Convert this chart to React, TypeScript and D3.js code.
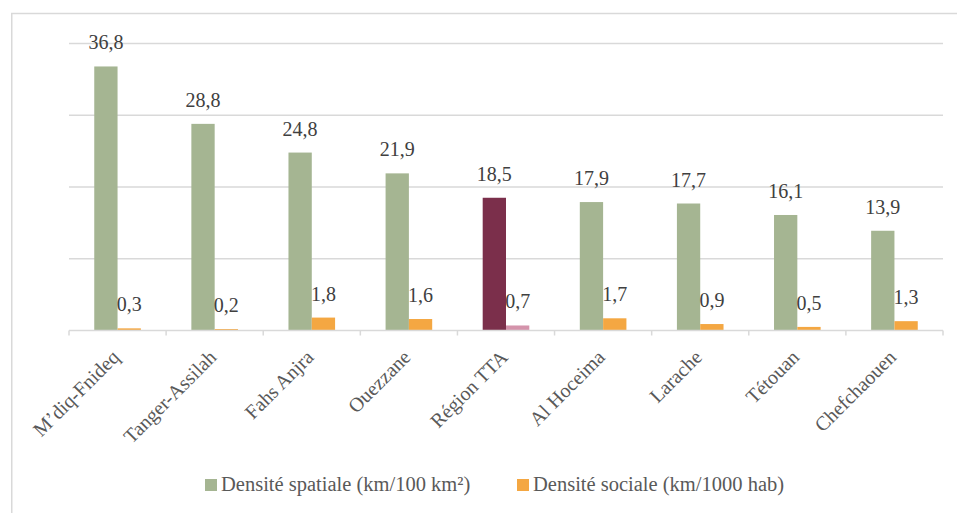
import React from "react";
import * as d3 from "d3";

const categories = ["M’diq-Fnideq", "Tanger-Assilah", "Fahs Anjra", "Ouezzane", "Région TTA", "Al Hoceima", "Larache", "Tétouan", "Chefchaouen"];
const spatialValues = [36.8, 28.8, 24.8, 21.9, 18.5, 17.9, 17.7, 16.1, 13.9];
const socialValues = [0.3, 0.2, 1.8, 1.6, 0.7, 1.7, 0.9, 0.5, 1.3];
const yTicks = [0, 10, 20, 30, 40];
const seriesNames = ["Densité spatiale (km/100 km²)", "Densité sociale (km/1000 hab)"];
const highlightCategory = "Région TTA";

const W = 957;
const H = 513;
const GREEN = "#A5B592";
const ORANGE = "#F4A742";
const MAROON = "#7B2F4B";
const PINK = "#D493AB";
const GRID = "#D9D9D9";
const TEXT = "#404040";
const FONT = "Liberation Serif";

export default function App() {
  const x = d3.scaleBand<string>().domain(categories).range([69, 943]).padding(0);
  const y = d3.scaleLinear().domain([0, 40]).range([330.5, 43.5]);
  const bw = x.bandwidth() * 0.24;
  const fmt = (v: number) => v.toFixed(1).replace(".", ",");
  const tStyle = { fontFamily: FONT };

  return (
    <svg width={W} height={H} style={{ position: "absolute", left: 0, top: 0, background: "#fff" }}>
      <line x1={11.75} x2={11.75} y1={13.5} y2={H} stroke={GRID} strokeWidth={1.5} />
      <line x1={11} x2={W} y1={13.5} y2={13.5} stroke={GRID} strokeWidth={1.5} />
      {yTicks.slice(1).map((t) => (
        <line key={t} x1={69} x2={943} y1={y(t)} y2={y(t)} stroke={GRID} strokeWidth={1.3} />
      ))}
      {categories.map((c, i) => {
        const cx = (x(c) as number) + x.bandwidth() / 2;
        const hl = c === highlightCategory;
        const v1 = spatialValues[i];
        const v2 = socialValues[i];
        return (
          <g key={c}>
            <rect x={cx - bw} y={y(v1)} width={bw} height={y(0) - y(v1)} fill={hl ? MAROON : GREEN} />
            <rect x={cx} y={y(v2)} width={bw} height={y(0) - y(v2)} fill={hl ? PINK : ORANGE} />
            <text x={cx - bw / 2} y={y(v1) - 17} textAnchor="middle" style={tStyle} fontSize={20} fill={TEXT}>
              {fmt(v1)}
            </text>
            <text x={cx + bw / 2} y={y(v2) - 17} textAnchor="middle" style={tStyle} fontSize={20} fill={TEXT}>
              {fmt(v2)}
            </text>
          </g>
        );
      })}
      <line x1={69} x2={943} y1={y(0)} y2={y(0)} stroke={GRID} strokeWidth={1.5} />
      {categories.map((c) => (
        <line key={"t" + c} x1={x(c) as number} x2={x(c) as number} y1={y(0)} y2={y(0) + 5} stroke={GRID} strokeWidth={1.5} />
      ))}
      <line x1={943} x2={943} y1={y(0)} y2={y(0) + 5} stroke={GRID} strokeWidth={1.5} />
      {categories.map((c) => {
        const cx = (x(c) as number) + x.bandwidth() / 2;
        return (
          <text
            key={"l" + c}
            transform={`translate(${cx + 3},${y(0) + 28}) rotate(-45)`}
            textAnchor="end"
            style={tStyle}
            fontSize={20}
            fill="#595959"
          >
            {c}
          </text>
        );
      })}
      <rect x={205} y={479} width={12} height={12} fill={GREEN} />
      <text x={221} y={490.5} style={tStyle} fontSize={20.5} fill="#595959">{seriesNames[0]}</text>
      <rect x={517} y={479} width={12} height={12} fill={ORANGE} />
      <text x={533} y={490.5} style={tStyle} fontSize={20.5} fill="#595959">{seriesNames[1]}</text>
    </svg>
  );
}
